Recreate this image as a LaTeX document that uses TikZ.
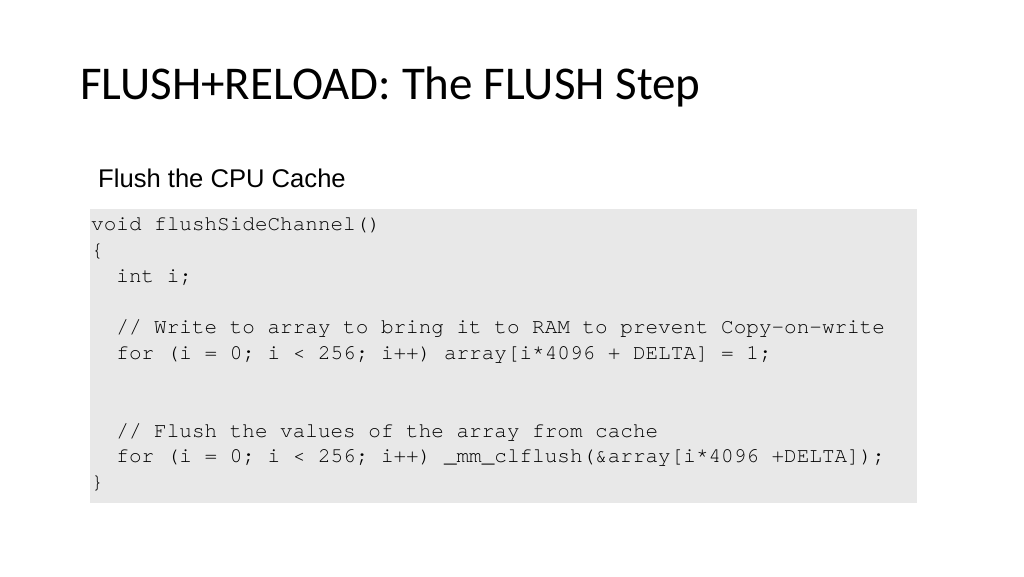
\documentclass[tikz,border=0pt]{standalone}
\usepackage{fontspec}
\setmainfont{Carlito}
\newfontfamily\armfont{Liberation Sans}
\setmonofont[Ligatures=NoCommon]{texgyrecursor-regular.otf}
\usetikzlibrary{positioning}

\definecolor{codebg}{RGB}{232,232,232}

\begin{document}
\begin{tikzpicture}[x=1pt,y=-1pt]
  \tikzstyle{codeline}=[anchor=base west,inner sep=0pt,font=\fontsize{21}{25.8}\ttfamily,text=black]

  \useasboundingbox[fill=white] (0,0) rectangle (1024,576);

  \node[anchor=base west,inner sep=0pt,font=\fontsize{47}{56}\selectfont] (title) at (80,99) {FLUSH+RELOAD: The FLUSH Step};
  \node[anchor=base west,inner sep=0pt,font=\fontsize{25.6}{30}\armfont] (sub) at (98,187) {Flush the CPU Cache};

  \fill[codebg] (90,209) rectangle (917,503);

  \node[codeline] (l1) at (91,230.7) {void flushSideChannel()};
  \node[codeline] (l2) at (91,256.5) {\{};
  \node[codeline] (l3) at (116.2,282.3) {int i;};
  \node[codeline] (l5) at (116.2,333.9) {// Write to array to bring it to RAM to prevent Copy-on-write};
  \node[codeline] (l6) at (116.2,359.7) {for (i = 0; i < 256; i++) array[i*4096 + DELTA] = 1;};
  \node[codeline] (l9) at (116.2,437.1) {// Flush the values of the array from cache};
  \node[codeline] (l10) at (116.2,462.9) {for (i = 0; i < 256; i++) \_mm\_clflush(\&array[i*4096 +DELTA]);};
  \node[codeline] (l11) at (91,488.7) {\}};

\end{tikzpicture}
\end{document}
